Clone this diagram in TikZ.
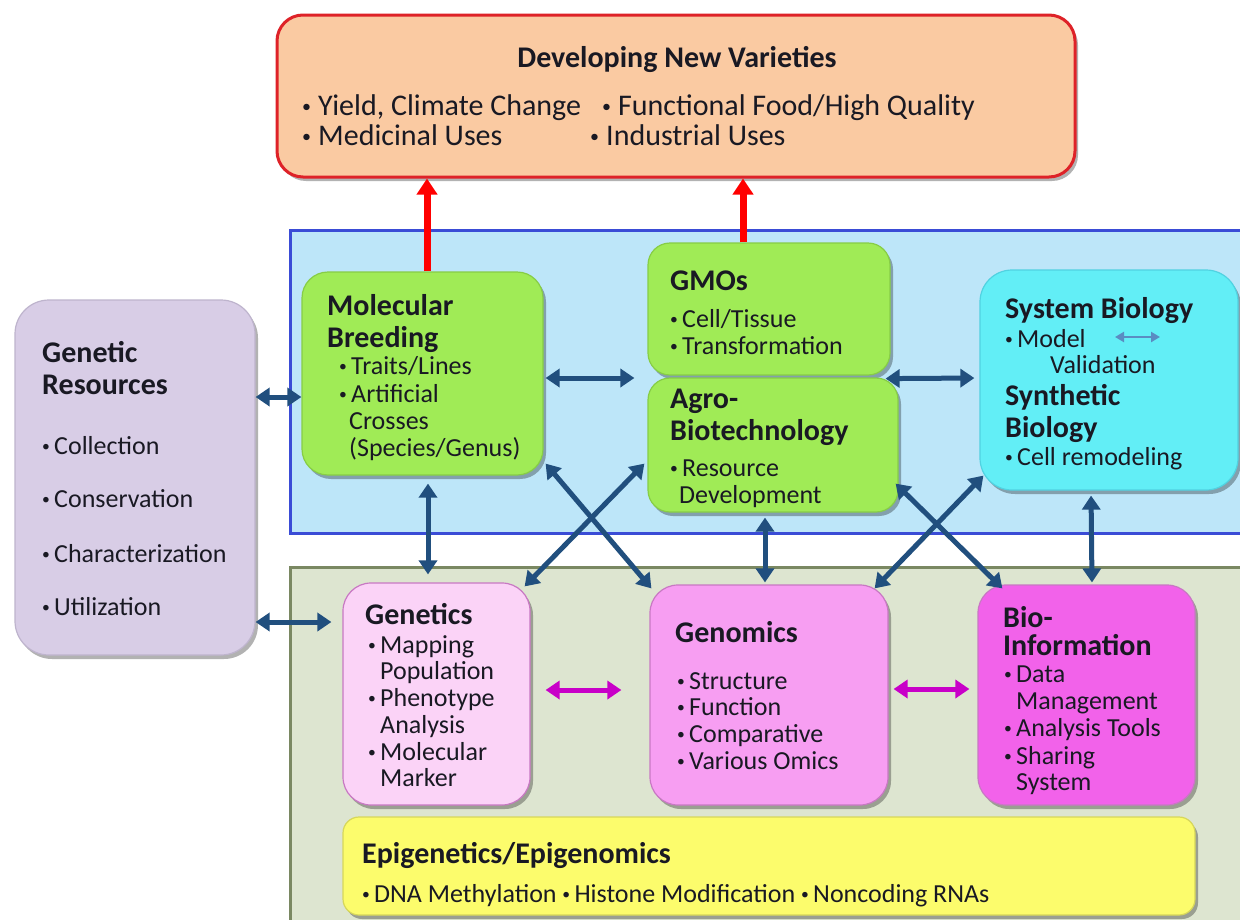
\documentclass[tikz,border=0pt]{standalone}
\usepackage{fontspec}
\usepackage{graphicx}
\setmainfont{Carlito}
\usetikzlibrary{arrows.meta,shadows}
\definecolor{ink}{RGB}{25,25,35}
\definecolor{peach}{RGB}{250,202,162}
\definecolor{redline}{RGB}{222,34,40}
\definecolor{bluefill}{RGB}{189,230,249}
\definecolor{blueline}{RGB}{58,76,214}
\definecolor{olivefill}{RGB}{221,229,208}
\definecolor{oliveline}{RGB}{122,136,98}
\definecolor{lavender}{RGB}{216,205,230}
\definecolor{lavline}{RGB}{190,180,205}
\definecolor{lime}{RGB}{160,235,86}
\definecolor{limeline}{RGB}{135,205,70}
\definecolor{cyanfill}{RGB}{98,238,246}
\definecolor{cyanline}{RGB}{80,210,225}
\definecolor{pinkA}{RGB}{251,211,247}
\definecolor{pinkB}{RGB}{247,158,242}
\definecolor{pinkC}{RGB}{242,98,234}
\definecolor{pinkline}{RGB}{200,120,195}
\definecolor{yell}{RGB}{252,252,108}
\definecolor{yellline}{RGB}{215,215,90}
\definecolor{navy}{RGB}{33,79,126}
\definecolor{magarrow}{RGB}{200,0,200}
\definecolor{steel}{RGB}{90,140,194}
\newcommand\myBody{\fontsize{26}{30}\selectfont}
\newcommand\myHead{\fontsize{30}{34}\selectfont\bfseries}
\newcommand\myTop{\fontsize{30}{34}\selectfont}
\newcommand\bl{\makebox[12pt][l]{\raisebox{2.6pt}{\scalebox{0.6}{•}}}}
\newcommand\blt{\makebox[16pt][l]{\raisebox{3pt}{\scalebox{0.6}{•}}}}
\begin{document}
\begin{tikzpicture}[x=1pt,y=-1pt,
  panel/.style={rectangle, rounded corners=#1, line width=1.2pt, inner sep=0pt,
    drop shadow={shadow xshift=3pt, shadow yshift=-4pt, opacity=0.3, fill=black}},
  region/.style={rectangle, line width=3pt, inner sep=0pt},
  tx/.style={anchor=base west, inner sep=0pt, text=ink, font=\myBody},
  hd/.style={anchor=base west, inner sep=0pt, text=ink, font=\myHead},
  tp/.style={anchor=base west, inner sep=0pt, text=ink, font=\myTop},
  link/.style={draw=navy, line width=5pt, {Triangle[length=14pt,width=18pt]}-{Triangle[length=14pt,width=18pt]}},
  mlink/.style={draw=magarrow, line width=5pt, {Triangle[length=14pt,width=18pt]}-{Triangle[length=14pt,width=18pt]}},
  slink/.style={draw=steel, line width=2.5pt, {Triangle[length=9pt,width=10pt]}-{Triangle[length=9pt,width=10pt]}},
  redlink/.style={draw=red, line width=7pt, -{Triangle[length=16pt,width=20pt]}}
]
\useasboundingbox (0,0) rectangle (1240,919);
\fill[white] (0,0) rectangle (1240,919);

% regions
\node[region, draw=blueline, fill=bluefill, minimum width=960pt, minimum height=303pt] (blueR) at (770,381.5) {};
\node[region, draw=oliveline, fill=olivefill, minimum width=960pt, minimum height=360pt] (greenR) at (770,747) {};

% boxes
\node[panel=26pt, draw=redline, line width=3pt, fill=peach, minimum width=798pt, minimum height=162pt] (top) at (676,96) {};
\node[panel=34pt, draw=lavline, fill=lavender, minimum width=240pt, minimum height=355pt] (gr) at (135,477.5) {};
\node[panel=26pt, draw=limeline, fill=lime, minimum width=241pt, minimum height=203pt] (mb) at (422.5,373.5) {};
\node[panel=22pt, draw=limeline, fill=lime, minimum width=242pt, minimum height=132pt] (gmo) at (769,309) {};
\node[panel=22pt, draw=limeline, fill=lime, minimum width=250pt, minimum height=134pt] (agro) at (773,445) {};
\node[panel=32pt, draw=cyanline, fill=cyanfill, minimum width=258pt, minimum height=220pt] (sys) at (1109,380) {};
\node[panel=28pt, draw=pinkline, fill=pinkA, minimum width=187pt, minimum height=222pt] (gen) at (436.5,694) {};
\node[panel=28pt, draw=pinkline, fill=pinkB, minimum width=238pt, minimum height=220pt] (gnm) at (769,695) {};
\node[panel=28pt, draw=pinkline, fill=pinkC, minimum width=217pt, minimum height=220pt] (bio) at (1086.5,695) {};
\node[panel=16pt, draw=yellline, fill=yell, minimum width=852pt, minimum height=98pt] (epi) at (769,866) {};

% texts: top box
\node[hd, anchor=base] (topT) at (677,67) {Developing New Varieties};
\node[tp] (topA) at (302,115) {\blt Yield, Climate Change};
\node[tp] (topB) at (602,115) {\blt Functional Food/High Quality};
\node[tp] (topC) at (302,145) {\blt Medicinal Uses};
\node[tp] (topD) at (590,145) {\blt Industrial Uses};

% genetic resources
\node[hd] (grA) at (42,362) {Genetic};
\node[hd] (grB) at (42,394) {Resources};
\node[tx] (grC) at (42,454) {\bl Collection};
\node[tx] (grD) at (42,507) {\bl Conservation};
\node[tx] (grE) at (42,562) {\bl Characterization};
\node[tx] (grF) at (42,615) {\bl Utilization};

% molecular breeding
\node[hd] (mbA) at (327,315) {Molecular};
\node[hd] (mbB) at (327,347) {Breeding};
\node[tx] (mbC) at (339,374) {\bl Traits/Lines};
\node[tx] (mbD) at (339,402) {\bl Artificial};
\node[tx] (mbE) at (349,429) {Crosses};
\node[tx] (mbF) at (349,456) {(Species/Genus)};

% GMOs
\node[hd] (gmA) at (670,290) {GMOs};
\node[tx] (gmB) at (670,327) {\bl Cell/Tissue};
\node[tx] (gmC) at (670,354) {\bl Transformation};

% agro
\node[hd] (agA) at (670,408) {Agro-};
\node[hd] (agB) at (670,440) {Biotechnology};
\node[tx] (agC) at (670,476) {\bl Resource};
\node[tx] (agD) at (679,503) {Development};

% system biology
\node[hd] (syA) at (1005,318) {System Biology};
\node[tx] (syB) at (1005,347) {\bl Model};
\node[tx] (syC) at (1050,373) {Validation};
\node[hd] (syD) at (1005,405) {Synthetic};
\node[hd] (syE) at (1005,437) {Biology};
\node[tx] (syF) at (1005,465) {\bl Cell remodeling};

% genetics
\node[hd] (geA) at (365,624) {Genetics};
\node[tx] (geB) at (368,653) {\bl Mapping};
\node[tx] (geC) at (380,679) {Population};
\node[tx] (geD) at (368,706) {\bl Phenotype};
\node[tx] (geE) at (380,733) {Analysis};
\node[tx] (geF) at (368,760) {\bl Molecular};
\node[tx] (geG) at (380,786) {Marker};

% genomics
\node[hd] (gnA) at (675,642) {Genomics};
\node[tx] (gnB) at (677,689) {\bl Structure};
\node[tx] (gnC) at (677,715) {\bl Function};
\node[tx] (gnD) at (677,742) {\bl Comparative};
\node[tx] (gnE) at (677,769) {\bl Various Omics};

% bio-information
\node[hd] (biA) at (1003,627) {Bio-};
\node[hd] (biB) at (1003,655) {Information};
\node[tx] (biC) at (1004,682) {\bl Data};
\node[tx] (biD) at (1016,709) {Management};
\node[tx] (biE) at (1004,736) {\bl Analysis Tools};
\node[tx] (biF) at (1004,764) {\bl Sharing};
\node[tx] (biG) at (1016,790) {System};

% epigenetics
\node[hd] (epA) at (362,863) {Epigenetics/Epigenomics};
\node[tx] (epB) at (362,902) {\bl DNA Methylation \bl Histone Modification \bl Noncoding RNAs};

% arrows
\draw[link] ([yshift=80.5pt]gr.east) -- ([yshift=-23.5pt]mb.west);
\draw[link, shorten >=11pt] ([yshift=-144.5pt]gr.east) -- ([yshift=72pt]gen.west);
\draw[link, shorten <=2pt, shorten >=13pt] ([yshift=-4.5pt]mb.east) -- ([yshift=67pt]agro.west);
\draw[link, shorten >=5pt] ([xshift=-5pt,yshift=-3pt]gmo.south east) -- ([yshift=2pt]sys.west);
\draw[link, shorten <=8pt, shorten >=8pt] ([xshift=5.5pt]mb.south) -- ([xshift=-8.5pt]gen.north);
\draw[link] ([xshift=2pt,yshift=12pt]mb.south east) -- ([xshift=2pt,yshift=-4pt]gnm.north west);
\draw[link] ([xshift=-3pt,yshift=49pt]agro.south west) -- ([xshift=-6pt,yshift=-4pt]gen.north east);
\draw[link, shorten <=5pt, shorten >=2pt] ([xshift=-8pt]agro.south) -- ([xshift=-4pt]gnm.north);
\draw[link] ([xshift=-3pt,yshift=29pt]agro.south east) -- ([xshift=25pt,yshift=-4pt]bio.north west);
\draw[link] ([xshift=4pt,yshift=15pt]sys.south west) -- ([xshift=-14pt,yshift=-4pt]gnm.north east);
\draw[link, shorten <=5pt, shorten >=2pt] ([xshift=-18pt]sys.south) -- ([xshift=5.5pt]bio.north);
\draw[mlink, shorten <=15pt, shorten >=28pt] ([yshift=4pt]gen.east) -- ([yshift=5pt]gnm.west);
\draw[mlink, shorten <=5pt, shorten >=8pt] ([yshift=6pt]gnm.east) -- ([yshift=6pt]bio.west);
\draw[redlink] ([xshift=4.5pt]mb.north) -- ([xshift=-249pt]top.south);
\draw[redlink] ([xshift=-26pt]gmo.north) -- ([xshift=67pt]top.south);
\coordinate (va) at (1115,337);
\coordinate (vb) at (1160,337);
\draw[slink] (va) -- (vb);
\end{tikzpicture}
\end{document}
